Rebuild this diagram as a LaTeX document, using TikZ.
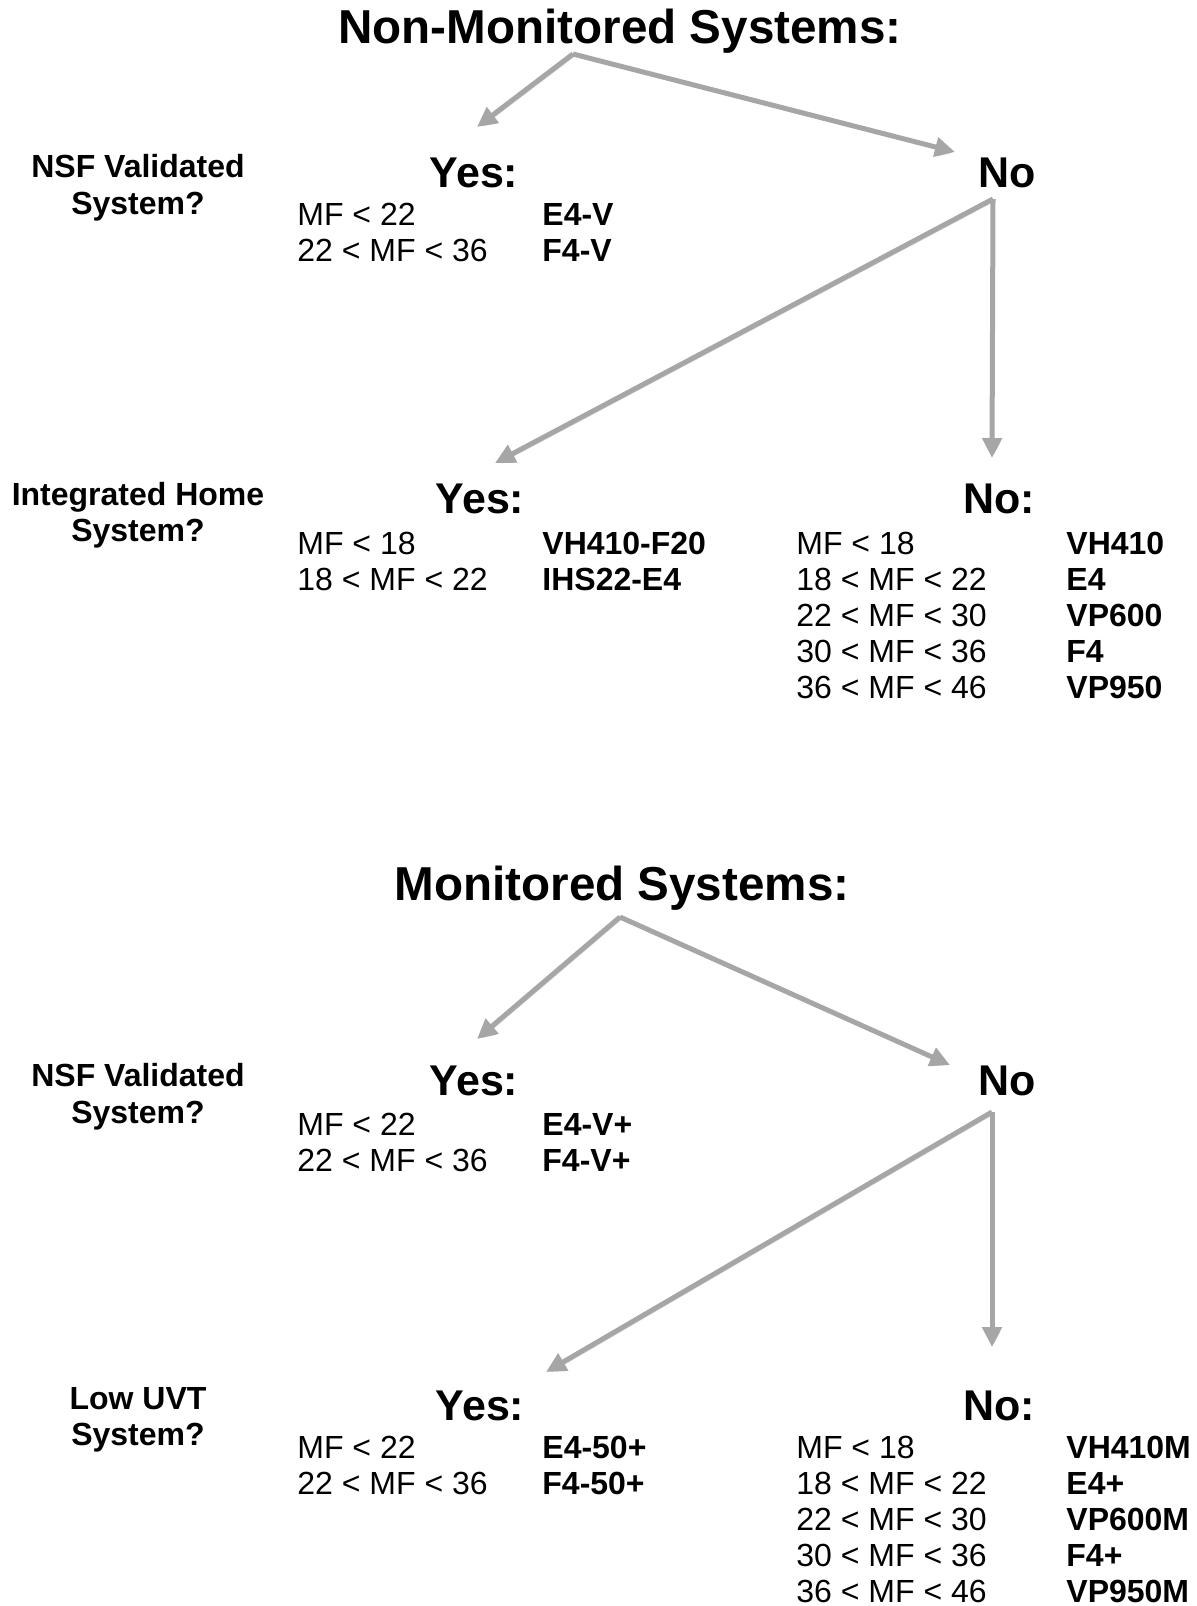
\documentclass[tikz,border=0pt]{standalone}
\usepackage{fontspec}
\setmainfont{Liberation Sans}
\usetikzlibrary{arrows.meta}
\definecolor{arrgray}{RGB}{166,166,166}

\begin{document}
\begin{tikzpicture}[x=0.5pt,y=-0.5pt,
  arr/.style={line width=2.5pt,draw=arrgray,-{Triangle[length=10pt,width=9.5pt]},
    preaction={draw=black!13,transform canvas={xshift=0.8pt,yshift=-1.1pt}}},
  ttl/.style={inner sep=0pt,anchor=base,font=\fontsize{23.8}{28}\selectfont\bfseries},
  hdr/.style={inner sep=0pt,anchor=base,font=\fontsize{21.5}{25}\selectfont\bfseries},
  lbl/.style={inner sep=0pt,anchor=base,font=\fontsize{16}{19}\selectfont\bfseries},
  cond/.style={inner sep=0pt,anchor=base west,font=\fontsize{16}{19}\selectfont},
  model/.style={inner sep=0pt,anchor=base west,font=\fontsize{16}{19}\selectfont\bfseries}]
\useasboundingbox (0,0) rectangle (1196,1606);

% non-monitored part
\node[ttl] (title1) at (620,43) {Non-Monitored Systems:};
\node[lbl] (nsf1a) at (138,177) {NSF Validated};
\node[lbl] (nsf1b) at (138,214) {System?};
\node[hdr] (yes1) at (474,187) {Yes:};
\node[hdr] (no1) at (1007,187) {No};
\node[cond] (c1a) at (297,225) {MF < 22};
\node[cond] (c1b) at (297,261) {22 < MF < 36};
\node[model] (m1a) at (542,225) {E4-V};
\node[model] (m1b) at (542,261) {F4-V};

\node[lbl] (ihs1a) at (138,505) {Integrated Home};
\node[lbl] (ihs1b) at (138,541) {System?};
\node[hdr] (yes2) at (480,513) {Yes:};
\node[hdr] (no2) at (999,513) {No:};
\node[cond] (c2a) at (297,554) {MF < 18};
\node[cond] (c2b) at (297,590) {18 < MF < 22};
\node[model] (m2a) at (542,554) {VH410-F20};
\node[model] (m2b) at (542,590) {IHS22-E4};
\node[cond] (c3a) at (796,554) {MF < 18};
\node[cond] (c3b) at (796,590) {18 < MF < 22};
\node[cond] (c3c) at (796,626) {22 < MF < 30};
\node[cond] (c3d) at (796,662) {30 < MF < 36};
\node[cond] (c3e) at (796,698) {36 < MF < 46};
\node[model] (m3a) at (1066,554) {VH410};
\node[model] (m3b) at (1066,590) {E4};
\node[model] (m3c) at (1066,626) {VP600};
\node[model] (m3d) at (1066,662) {F4};
\node[model] (m3e) at (1066,698) {VP950};

\coordinate (top1) at (573,54);
\coordinate (tipy1) at (477,127);
\coordinate (tipn1) at (955,152);
\coordinate (br1) at (993,199);
\coordinate (tipy2) at (495,463);
\coordinate (tipn2) at (992,458);
\draw[arr] (top1) -- (tipy1);
\draw[arr] (top1) -- (tipn1);
\draw[arr] (br1) -- (tipy2);
\draw[arr] (br1) -- (tipn2);

% monitored part
\node[ttl] (title2) at (622,900) {Monitored Systems:};
\node[lbl] (nsf2a) at (138,1086) {NSF Validated};
\node[lbl] (nsf2b) at (138,1123) {System?};
\node[hdr] (yes3) at (474,1095) {Yes:};
\node[hdr] (no3) at (1007,1095) {No};
\node[cond] (c4a) at (297,1135) {MF < 22};
\node[cond] (c4b) at (297,1171) {22 < MF < 36};
\node[model] (m4a) at (542,1135) {E4-V+};
\node[model] (m4b) at (542,1171) {F4-V+};

\node[lbl] (uvt1a) at (138,1409) {Low UVT};
\node[lbl] (uvt1b) at (138,1445) {System?};
\node[hdr] (yes4) at (480,1420) {Yes:};
\node[hdr] (no4) at (999,1420) {No:};
\node[cond] (c5a) at (297,1458) {MF < 22};
\node[cond] (c5b) at (297,1494) {22 < MF < 36};
\node[model] (m5a) at (542,1458) {E4-50+};
\node[model] (m5b) at (542,1494) {F4-50+};
\node[cond] (c6a) at (796,1458) {MF < 18};
\node[cond] (c6b) at (796,1494) {18 < MF < 22};
\node[cond] (c6c) at (796,1530) {22 < MF < 30};
\node[cond] (c6d) at (796,1566) {30 < MF < 36};
\node[cond] (c6e) at (796,1602) {36 < MF < 46};
\node[model] (m6a) at (1066,1458) {VH410M};
\node[model] (m6b) at (1066,1494) {E4+};
\node[model] (m6c) at (1066,1530) {VP600M};
\node[model] (m6d) at (1066,1566) {F4+};
\node[model] (m6e) at (1066,1602) {VP950M};

\coordinate (top2) at (620,917);
\coordinate (tipy3) at (477,1039);
\coordinate (tipn3) at (950,1065);
\coordinate (br2) at (992,1112);
\coordinate (tipy4) at (546,1372);
\coordinate (tipn4) at (992,1347);
\draw[arr] (top2) -- (tipy3);
\draw[arr] (top2) -- (tipn3);
\draw[arr] (br2) -- (tipy4);
\draw[arr] (br2) -- (tipn4);
\end{tikzpicture}
\end{document}
